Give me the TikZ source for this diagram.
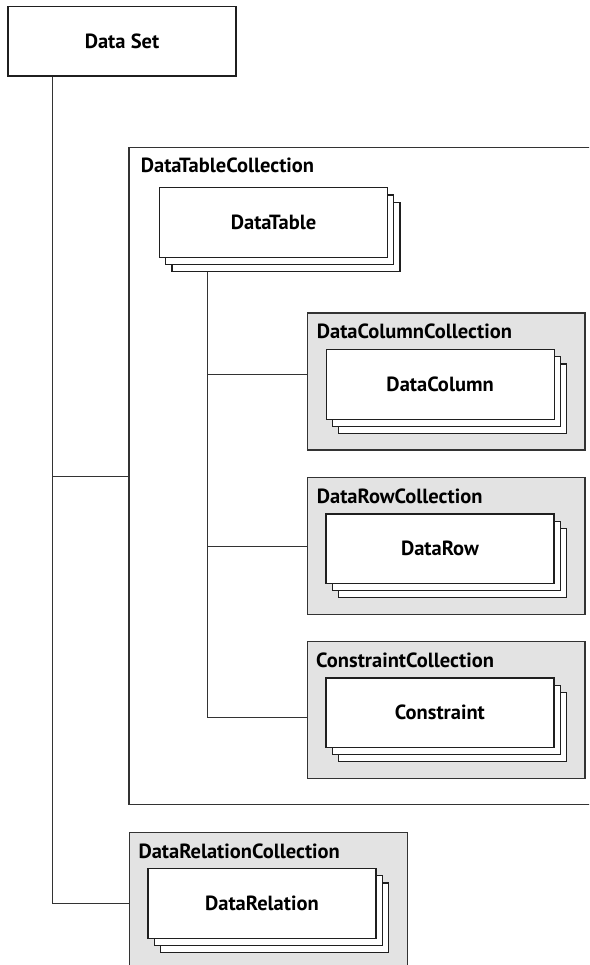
\documentclass[tikz,border=0pt]{standalone}
\usepackage{fontspec}
\setmainfont{PT Sans}
\usetikzlibrary{shadows,calc}
\begin{document}
\begin{tikzpicture}[x=1pt,y=-1pt,
  conn/.style={draw=black!80, line width=1pt},
  txt/.style={font=\fontsize{20.5}{22}\selectfont\bfseries},
  item/.style={txt, draw=black!88, line width=1.2pt, fill=white,
    minimum width=228pt, minimum height=69.5pt, inner sep=0pt},
  stack/.style={item, anchor=north west,
    double copy shadow={shadow xshift=6.2pt, shadow yshift=-7.2pt,
      draw=black!88, fill=white, line width=1.2pt}},
  coll/.style={draw=black!80, line width=1.2pt, fill=black!11,
    minimum width=277.6pt, minimum height=137pt, inner sep=0pt, anchor=north west},
  colllabel/.style={txt, anchor=base west, inner sep=0pt}
]
\useasboundingbox (0,0) rectangle (589,965);
\clip (0,0) rectangle (589,965);

% Data Set
\node[item] (ds) at (122,41.3) {Data Set};

% DataTableCollection (open on the right)
\node[anchor=north west, minimum width=520pt, minimum height=657pt, inner sep=0pt] (dtc) at (129,147.3) {};
\draw[conn, line width=1.2pt] (dtc.north east) -- (dtc.north west) -- (dtc.south west) -- (dtc.south east);
\node[colllabel] (dtcl) at ($(dtc.north west)+(11.7,25)$) {DataTableCollection};
\node[stack] (dt) at (159,187.3) {DataTable};

% inner collections
\node[coll] (cc) at (306.7,312.3) {};
\node[colllabel] (ccl) at ($(cc.north west)+(10,26.6)$) {DataColumnCollection};
\node[stack] (dc) at ($(cc.north west)+(18.8,36.7)$) {DataColumn};

\node[coll] (cr) at (306.7,476.7) {};
\node[colllabel] (crl) at ($(cr.north west)+(10,27)$) {DataRowCollection};
\node[stack] (dr) at ($(cr.north west)+(18.6,36.6)$) {DataRow};

\node[coll] (ck) at (306.7,640.7) {};
\node[colllabel] (ckl) at ($(ck.north west)+(9.3,26.5)$) {ConstraintCollection};
\node[stack] (cn) at ($(ck.north west)+(18.6,36.6)$) {Constraint};

% DataRelationCollection
\node[coll] (drc) at (129,831.7) {};
\node[colllabel] (drcl) at ($(drc.north west)+(9.3,26.5)$) {DataRelationCollection};
\node[stack] (rel) at ($(drc.north west)+(18.3,36.3)$) {DataRelation};

% main spine
\coordinate (spine) at ($(ds.south west)+(44.7,0)$);
\coordinate (relin) at ($(drc.north west)+(0,72)$);
\draw[conn] (spine) |- (relin);
\draw[conn] (spine |- dtc.west) -- (dtc.west);

% inner spine
\coordinate (tfoot) at ($(dt.south west)+(48.3,14.4)$);
\coordinate (ckin) at ($(ck.north west)+(0,77)$);
\coordinate (ccin) at ($(cc.north west)+(0,61.7)$);
\coordinate (crin) at ($(cr.north west)+(0,69.3)$);
\draw[conn] (tfoot) |- (ckin);
\draw[conn] (tfoot |- ccin) -- (ccin);
\draw[conn] (tfoot |- crin) -- (crin);
\end{tikzpicture}
\end{document}
